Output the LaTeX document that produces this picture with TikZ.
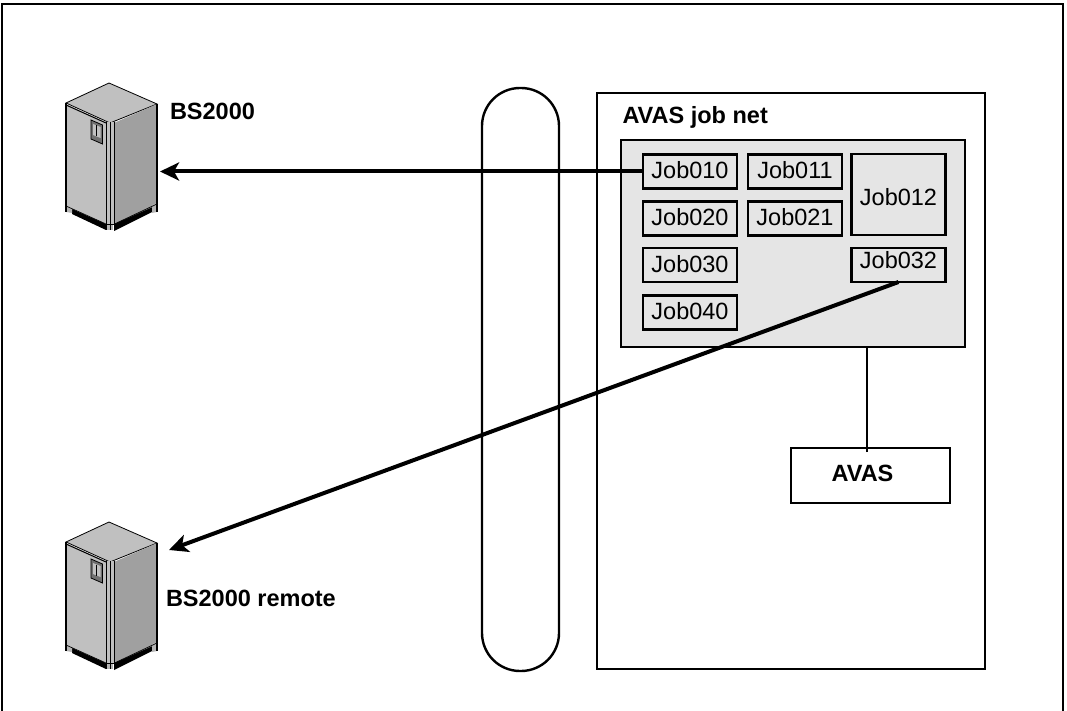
\documentclass[tikz,border=0pt]{standalone}
\usepackage{fontspec}
\setmainfont{Liberation Sans}
\usetikzlibrary{calc, arrows.meta}

\begin{document}
\begin{tikzpicture}[x=1pt, y=-1pt,
  every node/.style={font=\fontsize{23.5}{28}\selectfont, inner sep=0pt, outer sep=0pt},
  jobbox/.style={draw, line width=2.4pt, fill=netgray, minimum width=94pt, minimum height=34pt,
    text height=16.8pt, text depth=2.8pt},
  plainbox/.style={draw, line width=2.4pt, anchor=north west},
  caption/.style={anchor=base west, font=\fontsize{23.5}{28}\selectfont\bfseries},
  bigarrow/.style={line width=4pt, -{Stealth[length=19pt, width=18pt, inset=5pt]}},
  server/.pic={
    % faces of the cabinet
    \fill[black] (72,209) -- (106,224) -- (106,230) -- (72,214) -- cycle;
    \fill[black] (114,224) -- (152,205) -- (152,212) -- (114,231) -- cycle;
    \filldraw[fill=cabtop, line width=0.8pt] (109,83) -- (157,104) -- (110,123) -- (66,103) -- cycle;
    \fill[cabtop] (66,104) -- (106,122) -- (106,224) -- (66,206) -- cycle;
    \fill[cabside] (114,123) -- (157,104) -- (157,205) -- (114,224) -- cycle;
    \fill[cabtop] (106,122) rectangle (114,224);
    % feet
    \fill[footgray] (66,206) -- (72,209) -- (72,213) -- (66,212) -- cycle;
    \fill[footgray] (152,205) -- (157,203) -- (157,212) -- (152,213) -- cycle;
    \fill[footgray] (106,224) rectangle (113,230);
    \draw[line width=1pt] (66,105) -- (106,123);
    \draw[line width=1.2pt] (66,103) -- (66,212);
    \draw[line width=1.2pt] (157,104) -- (157,212);
    \foreach \xs in {106,110.5,114.5} \draw[line width=0.9pt] (\xs,122) -- (\xs,230);
    \draw[line width=0.7pt] (106,224) -- (114.5,224);
    \draw[line width=0.7pt] (66,206) -- (106,224);
    \draw[line width=0.7pt] (114.5,224) -- (157,204);
    % control panel
    \filldraw[fill=panelgray, line width=0.8pt] (91,120) -- (102.5,125) -- (102.5,144) -- (91,139) -- cycle;
    \fill[cabtop] (93,124) -- (100.5,127) -- (100.5,138) -- (93,135) -- cycle;
    \draw[line width=0.6pt] (96.5,125.5) -- (96.5,136.5);
  },
]
  \definecolor{netgray}{HTML}{E5E5E5}
  \definecolor{cabtop}{HTML}{C0C0C0}
  \definecolor{cabside}{HTML}{A0A0A0}
  \definecolor{footgray}{HTML}{B4B4B4}
  \definecolor{panelgray}{HTML}{707070}
  \useasboundingbox (0,0) rectangle (1067,711);
  \draw[line width=1.3pt] (2,711) -- (2,4) -- (1063,4) -- (1063,711);

  \node[plainbox, rounded corners=38pt, minimum width=77pt, minimum height=583pt] (ring) at (482,88) {};
  \node[plainbox, minimum width=388pt, minimum height=576pt] (host) at (597,93) {};
  \node[plainbox, fill=netgray, minimum width=344pt, minimum height=207pt] (net) at (621,140) {};

  \foreach \name/\xc/\yc in {Job010/690/171.5, Job011/795/171.5, Job020/690/218.5,
                             Job021/795/218.5, Job030/690/265, Job040/690/312.5}
    \node[jobbox] (\name) at (\xc,\yc) {\name};
  \node[jobbox, minimum height=81pt, text height=23pt, text depth=0pt] (Job012) at (898.5,194.5) {Job012};
  \node[jobbox, text depth=8.8pt] (Job032) at (898.5,265) {Job032};

  \node[plainbox, fill=white, minimum width=159pt, minimum height=55pt] (avas) at (791,448) {};
  \node[caption, anchor=base] at (862.5,481) {AVAS};

  \pic at (0,0) {server};
  \pic at (0,439) {server};

  \coordinate (bs) at (160,171.5);
  \coordinate (bsremote) at (169,550);
  \coordinate (avastop) at (867,452);
  \draw[bigarrow] (Job010.west) -- (bs);
  \draw[bigarrow] (Job032.south) -- (bsremote);
  \draw[line width=2.4pt] (avastop) -- (avastop |- net.south);

  \node[caption] at (170,119.5) {BS2000};
  \node[caption] at (166,606) {BS2000 remote};
  \node[caption] at (622.5,124) {AVAS job net};
\end{tikzpicture}
\end{document}
